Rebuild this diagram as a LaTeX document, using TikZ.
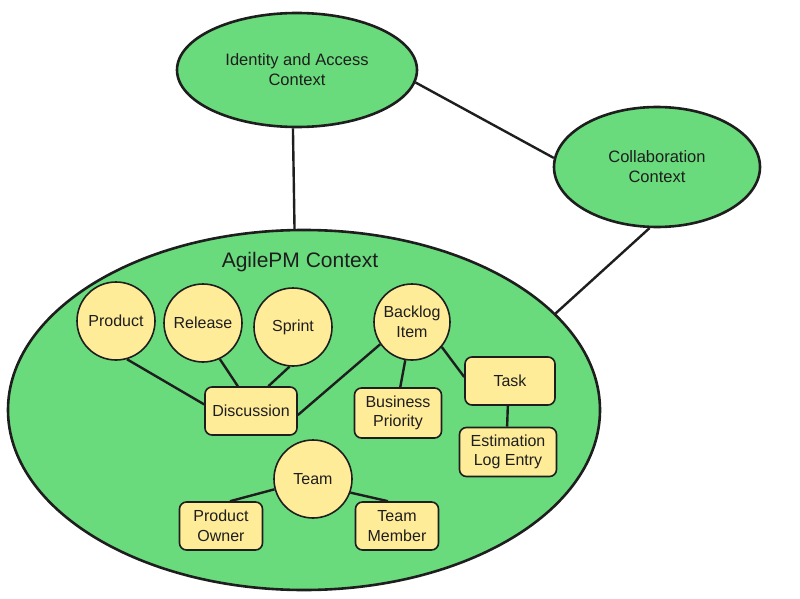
\documentclass[tikz,border=0pt]{standalone}
\usepackage{fontspec}
\setmainfont{Liberation Sans}
\usetikzlibrary{shapes.geometric}
\definecolor{ctxgreen}{HTML}{69DB7C}
\definecolor{entyellow}{HTML}{FFEC99}
\definecolor{ink}{HTML}{1E1E1E}
\tikzset{
  ctx/.style={ellipse, draw=ink, line width=2.6pt, fill=ctxgreen, inner sep=0pt, align=center, font=\fontsize{16.5}{20}\selectfont, text=ink},
  ent/.style={circle, draw=ink, line width=1.6pt, fill=entyellow, inner sep=0pt, minimum size=78pt, align=center, font=\fontsize{16}{19.5}\selectfont, text=ink},
  vo/.style={rectangle, rounded corners=7pt, draw=ink, line width=1.6pt, fill=entyellow, inner sep=0pt, align=center, font=\fontsize{16}{19.5}\selectfont, text=ink},
  link/.style={draw=ink, line width=2.4pt},
}
\begin{document}
\begin{tikzpicture}[x=1pt, y=-1pt]
\useasboundingbox (0,0) rectangle (800,599);
% contexts
\node[ctx, minimum width=240pt, minimum height=114pt] (iam) at (297,70) {Identity and Access\\Context};
\node[ctx, minimum width=206pt, minimum height=120pt] (col) at (657,167) {Collaboration\\Context};
\node[ctx, minimum width=592pt, minimum height=360pt] (apm) at (304,410) {};
\node[font=\fontsize{21}{25}\selectfont, text=ink] (apmlabel) at (300,262) {AgilePM Context};
% context links
\draw[link] (iam.266) -- (apm.93);
\draw[link] (iam.-6) -- (col.175);
\draw[link] (col.263) -- (apm.21);
% entities
\node[ent] (product) at (116,321) {Product};
\node[ent] (release) at (203,323) {Release};
\node[ent] (sprint) at (293,327) {Sprint};
\node[ent, minimum size=76pt] (backlog) at (412,322) {Backlog\\Item};
\node[ent] (team) at (313,479) {Team};
\node[vo, minimum width=92pt, minimum height=48pt] (disc) at (251,411) {Discussion};
\node[vo, minimum width=87pt, minimum height=50pt] (bp) at (398,413) {Business\\Priority};
\node[vo, minimum width=90pt, minimum height=48pt] (task) at (510,381) {Task};
\node[vo, minimum width=97pt, minimum height=49pt] (est) at (508,452) {Estimation\\Log Entry};
\node[vo, minimum width=83pt, minimum height=48pt] (po) at (221,526) {Product\\Owner};
\node[vo, minimum width=83pt, minimum height=48pt] (tm) at (397,526) {Team\\Member};
% entity links
\draw[link] (product.-74) -- (disc.172);
\draw[link] (release.-65) -- (disc.118);
\draw[link] (sprint.-95) -- (disc.55);
\draw[link] (backlog.-145) -- (disc.-5);
\draw[link] (backlog.-100) -- (bp.85);
\draw[link] (backlog.-40) -- (task.175);
\draw[link] (task.-95) -- (est.92);
\draw[link] (team.-165) -- (po.70);
\draw[link] (team.-20) -- (tm.110);
\end{tikzpicture}
\end{document}
